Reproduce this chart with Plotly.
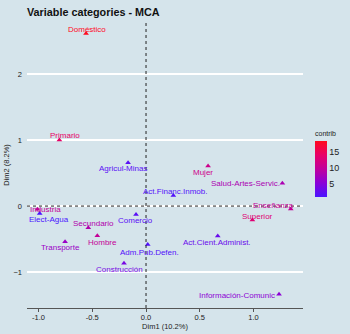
import plotly.graph_objects as go
from plotly.colors import sample_colorscale

categories = ["Doméstico", "Primario", "Agricul-Minas", "Mujer", "Act.Financ.Inmob.",
              "Salud-Artes-Servic.", "Enseñanza", "Superior", "Act.Cient.Administ.",
              "Información-Comunic", "Industria", "Elect-Agua", "Secundario", "Hombre",
              "Transporte", "Comercio", "Adm.Pub.Defen.", "Construcción"]
dim1 = [-0.558, -0.806, -0.167, 0.577, 0.254, 1.268, 1.346, 0.989, 0.667,
        1.237, -1.01, -0.989, -0.537, -0.453, -0.753, -0.093, 0.016, -0.205]
dim2 = [2.614, 1.0, 0.656, 0.606, 0.162, 0.344, -0.045, -0.212, -0.455,
        -1.338, -0.05, -0.111, -0.329, -0.450, -0.541, -0.126, -0.581, -0.868]
contrib = [18.3, 14.0, 2.0, 11.0, 1.5, 8.0, 10.0, 13.0, 3.0,
           5.5, 10.0, 0.9, 8.5, 10.0, 6.5, 2.0, 1.5, 4.0]
label_dx = [0.7, 5.7, -5.3, -4.7, 1.7, -37, -17, 5, -1, -41.7, 8, 9.3, 5, 5.4, -5, -1, 1.6, -4.7]
label_dy = [-4.5, -5, 5.6, 6.3, -3.6, 0, -4, -4, 6.7, 1.4, -0.3, 6, -4.7, 6.3, 6, 6, 8.4, 6]

x_ticks = [-1.0, -0.5, 0.0, 0.5, 1.0]
x_ticklabels = ["-1.0", "-0.5", "0.0", "0.5", "1.0"]
y_ticks = [-1, 0, 1, 2]
cbar_ticks = [5, 10, 15]

BG = "#d5e4eb"
cscale = [[0, "#4a14ff"], [0.25, "#8a00d8"], [0.5, "#c0009c"], [0.75, "#e80068"], [1, "#ff0a1e"]]
cmin, cmax = min(contrib), max(contrib)

fig = go.Figure()
fig.add_trace(go.Scatter(
    x=dim1, y=dim2, mode="markers",
    marker=dict(symbol="triangle-up", size=5, color=contrib, colorscale=cscale,
                cmin=cmin, cmax=cmax, line=dict(width=0),
                colorbar=dict(thickness=12, outlinewidth=0, tickvals=cbar_ticks, ticks="",
                              x=(315 - 27) / 276, xanchor="left",
                              y=(308 - 197) / 286, yanchor="bottom",
                              len=56 / 286, lenmode="fraction",
                              tickfont=dict(size=9, color="#222"), ypad=0, xpad=0)),
    hoverinfo="text", text=categories, showlegend=False))

cols = sample_colorscale(cscale, [(c - cmin) / (cmax - cmin) for c in contrib])
for name, xv, yv, dx, dy, col in zip(categories, dim1, dim2, label_dx, label_dy, cols):
    fig.add_annotation(x=xv, y=yv, text=name, showarrow=False, xshift=dx, yshift=-dy,
                       font=dict(size=8, color=col, family="Liberation Sans"))

fig.add_annotation(xref="paper", yref="paper", x=(313 - 27) / 276, y=(308 - 139) / 286,
                   xanchor="left", yanchor="bottom", text="contrib", showarrow=False,
                   font=dict(size=7, color="#222"))

fig.add_shape(type="line", xref="x", yref="paper", x0=0, x1=0, y0=0, y1=1,
              line=dict(color="#222", width=1, dash="3px,3px"))
fig.add_shape(type="line", xref="paper", yref="y", x0=0, x1=1, y0=0, y1=0,
              line=dict(color="#222", width=1, dash="3px,3px"))

fig.update_layout(
    width=350, height=334, paper_bgcolor=BG, plot_bgcolor=BG,
    margin=dict(l=27, r=47, t=22, b=26, autoexpand=False),
    font=dict(family="Liberation Sans", color="#222"),
    title=dict(text="<b>Variable categories - MCA</b>", x=27/350, xanchor="left",
               y=1 - 12/334, yanchor="middle", font=dict(size=10.8, color="#111")),
    xaxis=dict(range=[-1.107, 1.46], tickvals=x_ticks, ticktext=x_ticklabels, showgrid=False,
               zeroline=False, showline=True, linecolor="#555", linewidth=1, ticks="outside",
               ticklen=3, tickcolor="#555", tickfont=dict(size=7.5), automargin=False,
               ticklabelstandoff=-1,
               title=dict(text="Dim1 (10.2%)", font=dict(size=7.5), standoff=0)),
    yaxis=dict(range=[-1.545, 2.79], tickvals=y_ticks, showgrid=True, gridcolor="white",
               gridwidth=1.5, zeroline=False, showline=False, ticks="", tickfont=dict(size=7.5),
               ticklabelstandoff=4, automargin=False,
               title=dict(text="Dim2 (8.2%)", font=dict(size=7.5), standoff=2)),
)
fig.write_html("out.html", config={"displayModeBar": False},
               post_script="document.body.style.margin='0';")
